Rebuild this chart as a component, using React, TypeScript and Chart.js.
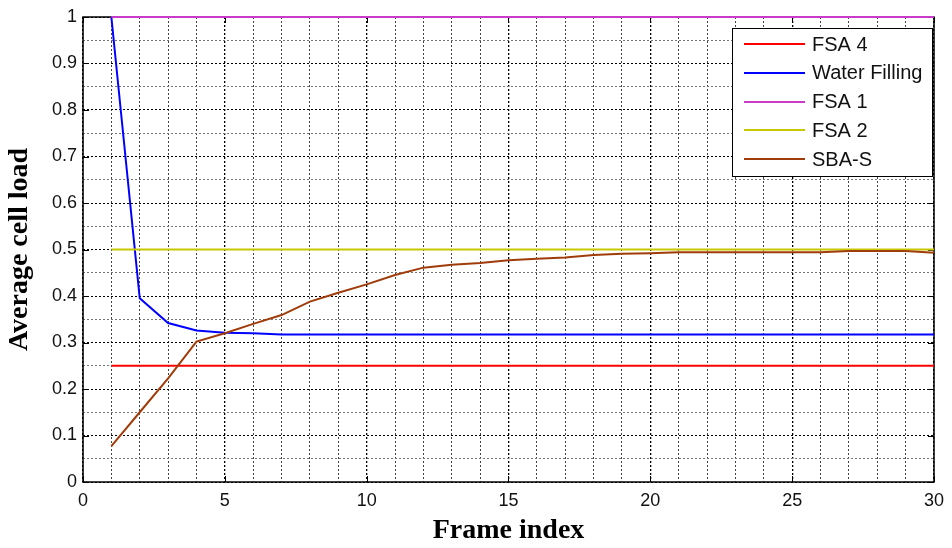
import React, { useEffect, useRef } from 'react';
import { Chart, registerables } from 'chart.js';

Chart.register(...registerables);

const frames = [1, 2, 3, 4, 5, 6, 7, 8, 9, 10, 11, 12, 13, 14, 15, 16, 17, 18, 19, 20, 21, 22, 23, 24, 25, 26, 27, 28, 29, 30];
const fsa4 = [0.25, 0.25, 0.25, 0.25, 0.25, 0.25, 0.25, 0.25, 0.25, 0.25, 0.25, 0.25, 0.25, 0.25, 0.25, 0.25, 0.25, 0.25, 0.25, 0.25, 0.25, 0.25, 0.25, 0.25, 0.25, 0.25, 0.25, 0.25, 0.25, 0.25];
const waterFilling = [1.0, 0.395, 0.342, 0.326, 0.321, 0.32, 0.317, 0.317, 0.317, 0.317, 0.317, 0.317, 0.317, 0.317, 0.317, 0.317, 0.317, 0.317, 0.317, 0.317, 0.317, 0.317, 0.317, 0.317, 0.317, 0.317, 0.317, 0.317, 0.317, 0.317];
const fsa1 = [1, 1, 1, 1, 1, 1, 1, 1, 1, 1, 1, 1, 1, 1, 1, 1, 1, 1, 1, 1, 1, 1, 1, 1, 1, 1, 1, 1, 1, 1];
const fsa2 = [0.5, 0.5, 0.5, 0.5, 0.5, 0.5, 0.5, 0.5, 0.5, 0.5, 0.5, 0.5, 0.5, 0.5, 0.5, 0.5, 0.5, 0.5, 0.5, 0.5, 0.5, 0.5, 0.5, 0.5, 0.5, 0.5, 0.5, 0.5, 0.5, 0.5];
const sbaS = [0.077, 0.15, 0.223, 0.302, 0.32, 0.34, 0.359, 0.388, 0.407, 0.425, 0.445, 0.461, 0.467, 0.471, 0.477, 0.48, 0.483, 0.488, 0.491, 0.492, 0.494, 0.494, 0.494, 0.494, 0.494, 0.494, 0.497, 0.497, 0.497, 0.493];

const seriesLabels = ['FSA 4', 'Water Filling', 'FSA 1', 'FSA 2', 'SBA-S'];
const seriesValues = [fsa4, waterFilling, fsa1, fsa2, sbaS];
const seriesColors = ['#ff0000', '#0000ff', '#c83cc8', '#c8c800', '#a03c0a'];

const xTickLabels = [0, 5, 10, 15, 20, 25, 30];
const yTickLabels = [0, 0.1, 0.2, 0.3, 0.4, 0.5, 0.6, 0.7, 0.8, 0.9, 1];

const xTitle = 'Frame index';
const yTitle = 'Average cell load';

const isXMajor = (v: number) => xTickLabels.some((t) => Math.abs(t - v) < 1e-6);
const isYMajor = (v: number) => yTickLabels.some((t) => Math.abs(t - v) < 1e-6);

const framePlugin = {
  id: 'matlabFrame',
  beforeDatasetsDraw(chart: any) {
    const { ctx, chartArea, scales } = chart;
    const { left, right, top, bottom } = chartArea;
    ctx.save();
    ctx.setLineDash([]);
    ctx.strokeStyle = '#000';
    ctx.lineWidth = 1;
    const tl = 6;
    ctx.beginPath();
    xTickLabels.forEach((v) => {
      const px = Math.round(scales.x.getPixelForValue(v)) + 0.5;
      ctx.moveTo(px, bottom);
      ctx.lineTo(px, bottom - tl);
      ctx.moveTo(px, top);
      ctx.lineTo(px, top + tl);
    });
    yTickLabels.forEach((v) => {
      const py = Math.round(scales.y.getPixelForValue(v)) + 0.5;
      ctx.moveTo(left, py);
      ctx.lineTo(left + tl, py);
      ctx.moveTo(right, py);
      ctx.lineTo(right - tl, py);
    });
    ctx.stroke();
    ctx.lineWidth = 1.5;
    ctx.strokeRect(left, top, right - left, bottom - top);
    ctx.restore();
  },
  afterDraw(chart: any) {
    const { ctx } = chart;
    const bx = 732, by = 28, bw = 200, bh = 148;
    ctx.save();
    ctx.setLineDash([]);
    ctx.fillStyle = '#fff';
    ctx.fillRect(bx, by, bw, bh);
    ctx.strokeStyle = '#000';
    ctx.lineWidth = 1;
    ctx.strokeRect(bx + 0.5, by + 0.5, bw, bh);
    ctx.font = '20px "Liberation Sans", Arial, sans-serif';
    ctx.textBaseline = 'middle';
    ctx.textAlign = 'left';
    chart.data.datasets.forEach((ds: any, i: number) => {
      const y = by + 16 + i * 28.75;
      ctx.strokeStyle = ds.borderColor;
      ctx.lineWidth = 2;
      ctx.beginPath();
      ctx.moveTo(bx + 12, Math.round(y));
      ctx.lineTo(bx + 73, Math.round(y));
      ctx.stroke();
      ctx.fillStyle = '#111';
      ctx.fillText(ds.label, bx + 80, y + 1);
    });
    ctx.restore();
  },
};

export default function App() {
  const canvasRef = useRef<HTMLCanvasElement | null>(null);

  useEffect(() => {
    if (!canvasRef.current) return;
    const n = seriesLabels.length;
    const chart = new Chart(canvasRef.current, {
      type: 'line',
      data: {
        datasets: seriesLabels.map((label, i) => ({
          label,
          data: frames.map((f, j) => ({ x: f, y: seriesValues[i][j] })),
          borderColor: seriesColors[i],
          backgroundColor: seriesColors[i],
          borderWidth: 2,
          pointRadius: 0,
          tension: 0,
          fill: false,
          clip: 4,
          order: n - 1 - i,
        })),
      },
      options: {
        responsive: false,
        animation: false,
        layout: { padding: { left: 0, right: 12, top: 17, bottom: 0 } },
        plugins: {
          legend: { display: false },
          tooltip: { enabled: false },
        },
        scales: {
          x: {
            type: 'linear',
            min: 0,
            max: 30,
            ticks: {
              stepSize: 1,
              autoSkip: false,
              maxRotation: 0,
              padding: 8,
              color: '#111',
              font: { family: '"Liberation Sans", Arial, sans-serif', size: 18 },
              callback: (v: any) => (isXMajor(Number(v)) ? String(v) : ''),
            },
            grid: {
              drawTicks: false,
              color: (c: any) => (isXMajor(c.tick.value) ? '#000' : '#444'),
              lineWidth: (c: any) => (isXMajor(c.tick.value) ? 1.3 : 1),
            },
            border: { display: false, dash: [2, 2] },
            title: {
              display: true,
              text: xTitle,
              color: '#000',
              font: { family: '"Liberation Serif", "Times New Roman", serif', size: 28, weight: 'bold' },
              padding: { top: 0, bottom: 0 },
            },
            afterFit: (s: any) => {
              s.height = 66;
            },
          },
          y: {
            type: 'linear',
            min: 0,
            max: 1,
            ticks: {
              stepSize: 0.05,
              autoSkip: false,
              padding: 6,
              color: '#111',
              font: { family: '"Liberation Sans", Arial, sans-serif', size: 18 },
              callback: (v: any) => {
                const num = Number(v);
                if (!isYMajor(num)) return '';
                if (Math.abs(num) < 1e-6) return '0';
                if (Math.abs(num - 1) < 1e-6) return '1';
                return num.toFixed(1);
              },
            },
            grid: {
              drawTicks: false,
              color: (c: any) => (isYMajor(c.tick.value) ? '#000' : '#777'),
              lineWidth: 1,
            },
            border: { display: false, dash: [2, 2] },
            title: {
              display: true,
              text: yTitle,
              color: '#000',
              font: { family: '"Liberation Serif", "Times New Roman", serif', size: 28, weight: 'bold' },
              padding: { top: 3, bottom: 0 },
            },
            afterFit: (s: any) => {
              s.width = 83;
            },
          },
        },
      },
      plugins: [framePlugin],
    });
    return () => chart.destroy();
  }, []);

  return (
    <div style={{ position: 'fixed', left: 0, top: 0, width: 952, height: 548, background: '#fff' }}>
      <canvas ref={canvasRef} width={952} height={548} />
    </div>
  );
}
